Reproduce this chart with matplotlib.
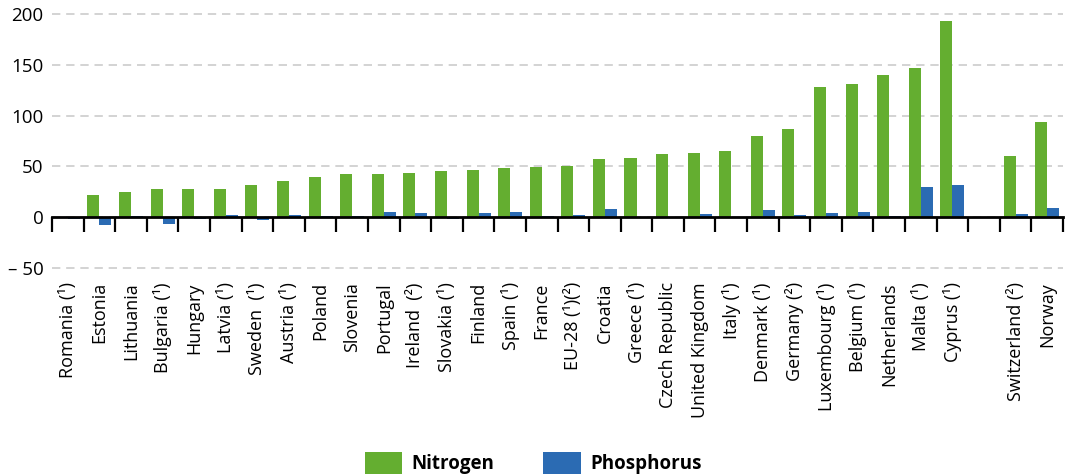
import matplotlib
matplotlib.use('Agg')
import matplotlib.pyplot as plt
import numpy as np

countries = ['Romania (¹)', 'Estonia', 'Lithuania', 'Bulgaria (¹)', 'Hungary', 'Latvia (¹)',
             'Sweden  (¹)', 'Austria (¹)', 'Poland', 'Slovenia', 'Portugal', 'Ireland  (²)',
             'Slovakia (¹)', 'Finland', 'Spain (¹)', 'France', 'EU-28 (¹)(²)', 'Croatia',
             'Greece (¹)', 'Czech Republic', 'United Kingdom', 'Italy (¹)', 'Denmark (¹)',
             'Germany (²)', 'Luxembourg (¹)', 'Belgium (¹)', 'Netherlands', 'Malta (¹)',
             'Cyprus (¹)', '', 'Switzerland (²)', 'Norway']
nitrogen = [0, 21.4, 24.4, 27.4, 27.4, 27.4, 31.3, 35.3, 39.2, 42.2, 42.2, 43.2,
            45.2, 46.1, 48.1, 49.1, 50.1, 57, 58, 62, 63, 65, 79.7,
            86.6, 128.2, 131.1, 140, 147, 193.4, np.nan, 60, 93.6]
phosphorus = [-2, -8, 0.5, -7, -2.5, 1.7, -3.5, 1.7, 0.5, 0.5, 4.6, 3.6,
              -2, 3.6, 4.6, 0.5, 1.7, 7.6, 0.3, 0.3, 2.6, 0.3, 6.6,
              1.7, 3.6, 4.6, 0.5, 29.3, 31.3, np.nan, 2.6, 8.6]
yticks = [-50, 0, 50, 100, 150, 200]
ytick_labels = ['– 50', '0', '50', '100', '150', '200']

green = '#64ae30'
blue = '#2b6bb3'

plt.rcParams['font.family'] = ['Open Sans', 'DejaVu Sans']

fig = plt.figure(figsize=(10.66, 4.74), dpi=100)
ax = fig.add_axes([0.0488, 0.4247, 0.9484, 0.5753])

x = np.arange(len(countries))
w = 0.38
ax.bar(x - w / 2, nitrogen, w, color=green, label='Nitrogen', zorder=3)
ax.bar(x + w / 2, phosphorus, w, color=blue, label='Phosphorus', zorder=3)

ax.set_xlim(-0.5, len(countries) - 0.5)
ax.set_ylim(-55, 214)

ax.set_yticks(yticks)
ax.set_yticklabels(ytick_labels, fontsize=13.5)
ax.tick_params(axis='y', length=0, pad=6)
ax.yaxis.grid(True, color='#cccccc', lw=1.2, linestyle=(0, (5, 3.5)), zorder=0)

for s in ['top', 'right', 'left']:
    ax.spines[s].set_visible(False)
ax.spines['bottom'].set_position(('data', 0))
ax.spines['bottom'].set_linewidth(2)
ax.spines['bottom'].set_zorder(4)

ax.set_xticks(x)
ax.set_xticklabels(countries, rotation=90, fontsize=13, va='top', ha='center')
ax.set_xticks(np.arange(-0.5, len(countries)), minor=True)
ax.tick_params(axis='x', which='major', length=0, pad=47)
ax.tick_params(axis='x', which='minor', length=11, width=1.6, direction='out')

fig.legend(loc='center', bbox_to_anchor=(0.5, 0.023), ncol=2, frameon=False,
           prop={'weight': 'bold', 'size': 13.5}, handlelength=2.0, handleheight=1.4,
           handletextpad=0.5, columnspacing=2.6)

fig.savefig('out.png', dpi=100)
